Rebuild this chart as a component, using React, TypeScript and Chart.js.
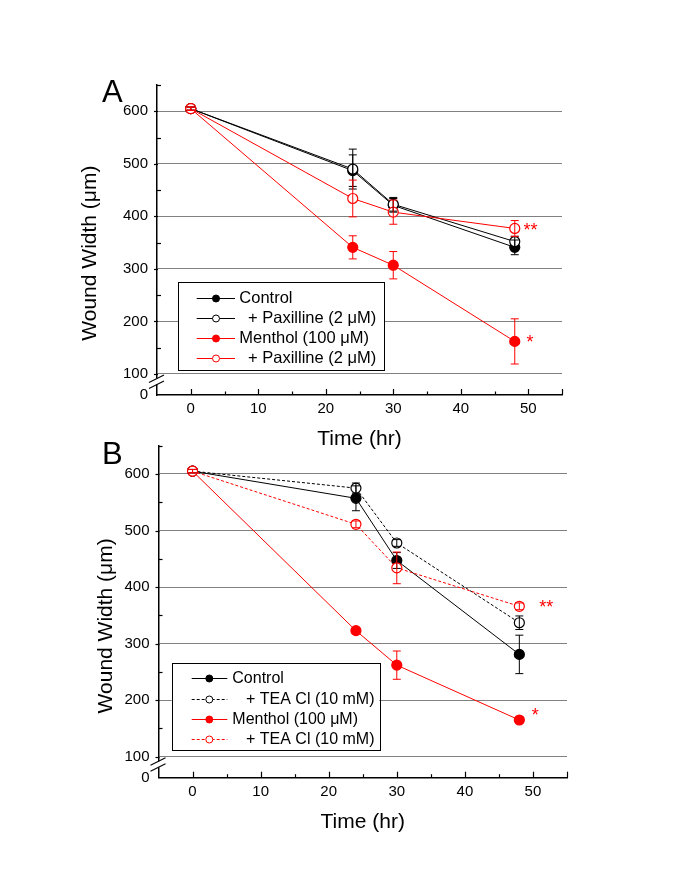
import React, { useEffect, useRef } from "react";
import { Chart, registerables } from "chart.js";
Chart.register(...registerables);

const FONT = "'Liberation Sans', Arial, Helvetica, sans-serif";
Chart.defaults.font.family = FONT;

// ---------------- data ----------------
const times = [0, 24, 30, 48];
const xTickValues = [0, 10, 20, 30, 40, 50];
const yTickValues = [100, 200, 300, 400, 500, 600];

// Panel A
const aLabels = ["Control", "+ Paxilline (2 μM)", "Menthol (100 μM)", "+ Paxilline (2 μM)"];
const aControl = [605, 487, 421, 341];
const aControlErr = [3, 30, 13, 14];
const aPaxilline = [605, 490, 423, 352];
const aPaxillineErr = [3, 38, 13, 10];
const aMenthol = [605, 341, 307, 162];
const aMentholErr = [3, 22, 26, 43];
const aMentholPax = [605, 434, 408, 377];
const aMentholPaxErr = [3, 35, 23, 15];
const aStars = ["", "", "*", "**"];

// Panel B
const bLabels = ["Control", "+ TEA Cl (10 mM)", "Menthol (100 μM)", "+ TEA Cl (10 mM)"];
const bControl = [605, 557, 447, 281];
const bControlErr = [3, 22, 14, 34];
const bTea = [605, 575, 478, 337];
const bTeaErr = [3, 9, 6, 12];
const bMenthol = [605, 323, 262, 165];
const bMentholErr = [3, 5, 25, 5];
const bMentholTea = [605, 511, 434, 366];
const bMentholTeaErr = [3, 6, 28, 6];
const bStars = ["", "", "*", "**"];

// ---------------- styles / layout ----------------
const styleA = [
  { color: "#000000", filled: true, dash: [] as number[] },
  { color: "#000000", filled: false, dash: [] as number[] },
  { color: "#ff0000", filled: true, dash: [] as number[] },
  { color: "#ff0000", filled: false, dash: [] as number[] },
];
const styleB = [
  { color: "#000000", filled: true, dash: [] as number[] },
  { color: "#000000", filled: false, dash: [3, 2] },
  { color: "#ff0000", filled: true, dash: [] as number[] },
  { color: "#ff0000", filled: false, dash: [3, 2] },
];

const panelA = {
  letter: "A",
  top: 0,
  height: 460,
  padTop: 85,
  padRight: 123,
  yAxisW: 157,
  xAxisH: 65,
  yMin: 60,
  yTitleX: 90,
  letterX: 112.3,
  letterBase: 101.7,
  labels: aLabels,
  values: [aControl, aPaxilline, aMenthol, aMentholPax],
  errors: [aControlErr, aPaxillineErr, aMentholErr, aMentholPaxErr],
  stars: aStars,
  starOffsets: [[0, 0], [0, 0], [15.2, -4], [15.8, -3.2]],
  style: styleA,
  legend: {
    x: 178.3, y: 282.3, w: 205.7, h: 87.7,
    rowY: [16, 36, 56, 76],
    lineX1: 196.7, lineX2: 235, cx: 216,
    textX: 239.3, textXIndent: 248, fontSize: 16.5,
  },
};

const panelB = {
  letter: "B",
  top: 420,
  height: 466,
  padTop: 25.7,
  padRight: 118,
  yAxisW: 158.5,
  xAxisH: 108.3,
  yMin: 63,
  yTitleX: 106.7,
  letterX: 112.3,
  letterBase: 44.3,
  labels: bLabels,
  values: [bControl, bTea, bMenthol, bMentholTea],
  errors: [bControlErr, bTeaErr, bMentholErr, bMentholTeaErr],
  stars: bStars,
  starOffsets: [[0, 0], [0, 0], [16, -9.6], [27, -3.6]],
  style: styleB,
  legend: {
    x: 171.7, y: 243.3, w: 207.6, h: 86.7,
    rowY: [15, 35.7, 56, 76],
    lineX1: 191.7, lineX2: 227.3, cx: 209.3,
    textX: 232.3, textXIndent: 246, fontSize: 16,
  },
};

type PanelT = typeof panelA;

function makeDecor(P: PanelT) {
  return {
    id: "decor" + P.letter,
    afterDatasetsDraw(chart: any) {
      const ctx = chart.ctx;
      const xs = chart.scales.x;
      const ys = chart.scales.y;
      P.values.forEach((vals, si) => {
        const errs = P.errors[si];
        ctx.save();
        ctx.strokeStyle = P.style[si].color;
        ctx.lineWidth = 1;
        ctx.setLineDash([]);
        vals.forEach((v, i) => {
          const x = xs.getPixelForValue(times[i]);
          const y1 = ys.getPixelForValue(v + errs[i]);
          const y2 = ys.getPixelForValue(v - errs[i]);
          ctx.beginPath();
          ctx.moveTo(x, y1);
          ctx.lineTo(x, y2);
          ctx.moveTo(x - 4, y1);
          ctx.lineTo(x + 4, y1);
          ctx.moveTo(x - 4, y2);
          ctx.lineTo(x + 4, y2);
          ctx.stroke();
        });
        ctx.restore();
      });
    },
    afterDraw(chart: any) {
      const ctx = chart.ctx;
      const ca = chart.chartArea;
      const xs = chart.scales.x;
      const ys = chart.scales.y;
      const ax = ca.left;
      ctx.save();
      ctx.setLineDash([]);

      // y-axis break
      const y100 = ys.getPixelForValue(100);
      const gTop = y100 + 4.5;
      const gBot = y100 + 10.5;
      ctx.fillStyle = "#ffffff";
      ctx.fillRect(ax - 2, gTop, 4, gBot - gTop);
      ctx.strokeStyle = "#000000";
      ctx.lineWidth = 1.2;
      [gTop, gBot].forEach((yc) => {
        ctx.beginPath();
        ctx.moveTo(ax - 8, yc + 4);
        ctx.lineTo(ax + 7, yc - 3.5);
        ctx.stroke();
      });

      // y ticks
      ctx.lineWidth = 1.2;
      for (let v = 150; v <= 650; v += 100) {
        const y = Math.round(ys.getPixelForValue(v)) + 0.5;
        ctx.beginPath();
        ctx.moveTo(ax, y);
        ctx.lineTo(ax + 4, y);
        ctx.stroke();
      }
      yTickValues.forEach((v) => {
        const y = Math.round(ys.getPixelForValue(v)) + 0.5;
        ctx.beginPath();
        ctx.moveTo(ax - 3, y);
        ctx.lineTo(ax + 1, y);
        ctx.stroke();
      });

      // x ticks (inward)
      for (let v = 0; v <= 55; v += 5) {
        const x = Math.round(xs.getPixelForValue(v)) + 0.5;
        const len = v % 10 === 0 || v === 55 ? 6 : 3.5;
        ctx.beginPath();
        ctx.moveTo(x, ca.bottom);
        ctx.lineTo(x, ca.bottom - len);
        ctx.stroke();
      }

      // legend
      const L = P.legend;
      ctx.fillStyle = "#ffffff";
      ctx.fillRect(L.x, L.y, L.w, L.h);
      ctx.strokeStyle = "#000000";
      ctx.lineWidth = 1;
      ctx.strokeRect(Math.round(L.x) + 0.5, Math.round(L.y) + 0.5, Math.round(L.w), Math.round(L.h));
      P.labels.forEach((lab, i) => {
        const st = P.style[i];
        const y = Math.round(L.y + L.rowY[i]) + 0.5;
        ctx.strokeStyle = st.color;
        ctx.lineWidth = 1;
        ctx.setLineDash(st.dash);
        ctx.beginPath();
        ctx.moveTo(L.lineX1, y);
        ctx.lineTo(L.lineX2, y);
        ctx.stroke();
        ctx.setLineDash([]);
        ctx.beginPath();
        ctx.arc(L.cx, y, 3.5, 0, Math.PI * 2);
        ctx.fillStyle = st.filled ? st.color : "#ffffff";
        ctx.fill();
        ctx.stroke();
        ctx.fillStyle = "#000000";
        ctx.font = `${L.fontSize}px ${FONT}`;
        ctx.textAlign = "left";
        ctx.textBaseline = "middle";
        ctx.fillText(lab, lab.startsWith("+") ? L.textXIndent : L.textX, y);
      });

      // titles
      ctx.fillStyle = "#000000";
      ctx.font = `21px ${FONT}`;
      ctx.textAlign = "center";
      ctx.textBaseline = "alphabetic";
      ctx.fillText("Time (hr)", (ca.left + ca.right) / 2, ca.bottom + 50);
      ctx.save();
      ctx.translate(P.yTitleX, (ys.getPixelForValue(600) + ca.bottom) / 2);
      ctx.rotate(-Math.PI / 2);
      ctx.textBaseline = "middle";
      ctx.fillText("Wound Width (μm)", 0, 0);
      ctx.restore();
      ctx.font = `31px ${FONT}`;
      ctx.textAlign = "center";
      ctx.textBaseline = "alphabetic";
      ctx.fillText(P.letter, P.letterX, P.letterBase);

      // significance marks
      ctx.fillStyle = "#ff0000";
      ctx.font = `18px ${FONT}`;
      ctx.textAlign = "center";
      ctx.textBaseline = "alphabetic";
      P.stars.forEach((s, si) => {
        if (!s) return;
        const last = times.length - 1;
        const px = xs.getPixelForValue(times[last]) + P.starOffsets[si][0];
        const py = ys.getPixelForValue(P.values[si][last]) + P.starOffsets[si][1];
        ctx.fillText(s, px, py + 10.4);
      });
      ctx.restore();
    },
  };
}

function ChartPanel({ P }: { P: PanelT }) {
  const ref = useRef<HTMLCanvasElement | null>(null);
  useEffect(() => {
    if (!ref.current) return;
    const datasets = P.values.map((vals, si) => {
      const st = P.style[si];
      return {
        label: P.labels[si],
        data: vals.map((v, i) => ({ x: times[i], y: v })),
        borderColor: st.color,
        backgroundColor: st.color,
        borderWidth: 1,
        borderDash: st.dash,
        pointRadius: 5,
        pointBorderWidth: 1.2,
        pointBackgroundColor: st.filled ? st.color : "#ffffff",
        pointBorderColor: st.color,
        pointHoverRadius: 5,
        tension: 0,
        fill: false,
        order: 4 - si,
      };
    });
    const chart = new Chart(ref.current, {
      type: "line",
      data: { datasets },
      options: {
        responsive: false,
        animation: false,
        devicePixelRatio: 1,
        events: [],
        layout: { padding: { left: 0, right: P.padRight, top: P.padTop, bottom: 0 } },
        plugins: { legend: { display: false }, tooltip: { enabled: false }, title: { display: false } },
        scales: {
          x: {
            type: "linear",
            min: -5,
            max: 55,
            afterBuildTicks: (s: any) => {
              s.ticks = xTickValues.map((v) => ({ value: v }));
            },
            ticks: { color: "#000000", font: { size: 15 }, padding: 5, maxRotation: 0, autoSkip: false },
            grid: { display: false, drawTicks: false },
            border: { display: true, color: "#000000", width: 1.5 },
            afterFit: (s: any) => {
              s.height = P.xAxisH;
            },
          },
          y: {
            type: "linear",
            min: P.yMin,
            max: 650,
            afterBuildTicks: (s: any) => {
              s.ticks = [P.yMin, ...yTickValues].map((v) => ({ value: v }));
            },
            ticks: {
              color: "#000000",
              font: { size: 15 },
              padding: 9,
              autoSkip: false,
              callback: (v: any) => (v === P.yMin ? "0" : String(v)),
            },
            grid: {
              drawTicks: false,
              lineWidth: 1,
              color: (c: any) => (c.tick && c.tick.value === P.yMin ? "rgba(0,0,0,0)" : "#808080"),
            },
            border: { display: true, color: "#000000", width: 1.5 },
            afterFit: (s: any) => {
              s.width = P.yAxisW;
            },
          },
        },
      },
      plugins: [makeDecor(P)],
    } as any);
    return () => chart.destroy();
  }, [P]);
  return (
    <canvas
      ref={ref}
      width={685}
      height={P.height}
      style={{ position: "absolute", left: 0, top: P.top, width: 685, height: P.height }}
    />
  );
}

export default function App() {
  return (
    <div style={{ position: "fixed", left: 0, top: 0, width: 685, height: 886, background: "#ffffff" }}>
      <ChartPanel P={panelA} />
      <ChartPanel P={panelB} />
    </div>
  );
}
